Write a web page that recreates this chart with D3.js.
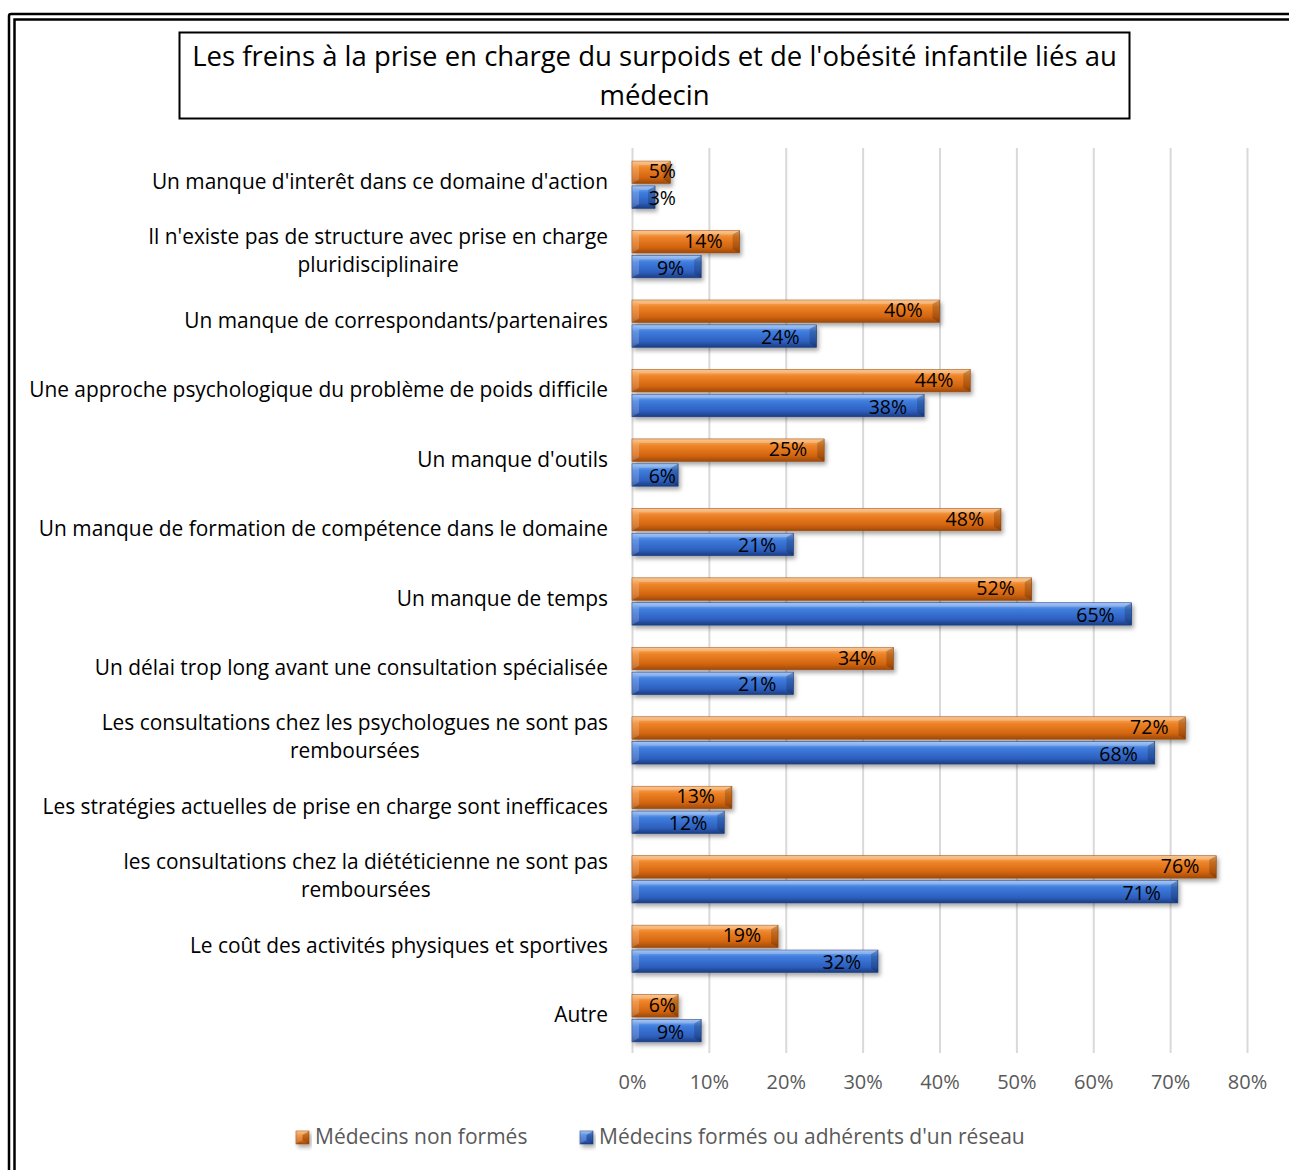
<!DOCTYPE html>
<html>
<head>
<meta charset="utf-8">
<script src="https://cdn.jsdelivr.net/npm/d3@7"></script>
<style>
  body { margin: 0; background: #fff; }
  text { font-family: "Open Sans", Lato, sans-serif; }
</style>
</head>
<body>
<svg id="chart" width="1289" height="1170"></svg>
<script>
// chart data
var categories = [
    "Un manque d'interêt dans ce domaine d'action",
    "Il n'existe pas de structure avec prise en charge\npluridisciplinaire",
    "Un manque de correspondants/partenaires",
    "Une approche psychologique du problème de poids difficile",
    "Un manque d'outils",
    "Un manque de formation de compétence dans le domaine",
    "Un manque de temps",
    "Un délai trop long avant une consultation spécialisée",
    "Les consultations chez les psychologues ne sont pas\nremboursées",
    "Les stratégies actuelles de prise en charge sont inefficaces",
    "les consultations chez la diététicienne ne sont pas\nremboursées",
    "Le coût des activités physiques et sportives",
    "Autre"
];
var seriesNames = ["Médecins non formés", "Médecins formés ou adhérents d'un réseau"];
var nonFormes = [0.05, 0.14, 0.40, 0.44, 0.25, 0.48, 0.52, 0.34, 0.72, 0.13, 0.76, 0.19, 0.06];
var formes = [0.03, 0.09, 0.24, 0.38, 0.06, 0.21, 0.65, 0.21, 0.68, 0.12, 0.71, 0.32, 0.09];
var tickValues = [0, 0.1, 0.2, 0.3, 0.4, 0.5, 0.6, 0.7, 0.8];
var titleLines = ["Les freins à la prise en charge du surpoids et de l'obésité infantile liés au", "médecin"];

var seriesValues = [nonFormes, formes];
var palettes = [
    {light: "#f9b772", mid: "#ee8428", dark: "#d2640f", edge: "#9c4a0b"},
    {light: "#8db6f2", mid: "#3f7ddd", dark: "#2d5fbf", edge: "#1c3d80"}
];

var svg = d3.select("#chart");
var defs = svg.append("defs");

palettes.forEach(function(p, i) {
    var grad = defs.append("linearGradient")
        .attr("id", "grad" + i)
        .attr("x1", 0).attr("y1", 0).attr("x2", 0).attr("y2", 1);
    grad.append("stop").attr("offset", "0%").attr("stop-color", p.light);
    grad.append("stop").attr("offset", "30%").attr("stop-color", p.mid);
    grad.append("stop").attr("offset", "75%").attr("stop-color", p.dark);
    grad.append("stop").attr("offset", "100%").attr("stop-color", p.edge);
});

var shadow = defs.append("filter").attr("id", "shadow")
    .attr("x", "-10%").attr("y", "-30%").attr("width", "130%").attr("height", "180%");
shadow.append("feDropShadow")
    .attr("dx", 2).attr("dy", 3).attr("stdDeviation", 2)
    .attr("flood-color", "#000").attr("flood-opacity", 0.35);

// outer double frame
svg.append("path")
    .attr("d", "M9,1175 V16 Q9,14 11,14 H1295")
    .attr("fill", "none").attr("stroke", "#000").attr("stroke-width", 2.5);
svg.append("path")
    .attr("d", "M14.5,1175 V19.5 H1295")
    .attr("fill", "none").attr("stroke", "#000").attr("stroke-width", 2.5);

// title box
svg.append("rect")
    .attr("x", 179.5).attr("y", 32.5).attr("width", 950).attr("height", 86)
    .attr("fill", "#fff").attr("stroke", "#000").attr("stroke-width", 2);
svg.append("g").selectAll("text")
    .data(titleLines)
  .enter()
    .append("text")
    .attr("x", 654.5)
    .attr("y", function(d, i) { return 66 + i * 39; })
    .attr("text-anchor", "middle")
    .attr("font-size", 27.5)
    .attr("fill", "#000")
    .text(function(d) { return d; });

var plotTop = 148, plotBottom = 1053;

var x = d3.scaleLinear().domain([0, 0.8]).range([632, 1247]);
var y = d3.scaleBand().domain(d3.range(categories.length))
    .range([150, plotBottom]).paddingInner(0.32).paddingOuter(0.16);
var y1 = d3.scaleBand().domain([0, 1]).range([0, y.bandwidth()]).paddingInner(0.1);

// gridlines
svg.append("g")
    .attr("transform", "translate(0," + plotBottom + ")")
    .call(d3.axisBottom(x).tickValues(tickValues).tickSize(-(plotBottom - plotTop)).tickFormat(""))
    .call(function(g) { g.select(".domain").remove(); })
    .call(function(g) { g.selectAll(".tick line").attr("stroke", "#d9d9d9").attr("stroke-width", 2); });

// value axis labels
svg.append("g")
    .attr("transform", "translate(0," + plotBottom + ")")
    .call(d3.axisBottom(x).tickValues(tickValues).tickSize(0).tickPadding(22).tickFormat(d3.format(".0%")))
    .call(function(g) { g.select(".domain").remove(); })
    .call(function(g) {
        g.selectAll(".tick text")
            .attr("font-size", 20).attr("fill", "#595959")
            .attr("font-family", "'Open Sans', Lato, sans-serif");
    });

// category labels
var catLabels = svg.append("g").selectAll(".cat")
    .data(categories)
  .enter()
    .append("text")
    .attr("class", "cat")
    .attr("font-size", 20.9)
    .attr("fill", "#000");

catLabels.each(function(d, i) {
    var lines = d.split("\n");
    var t = d3.select(this);
    var cy = y(i) + y.bandwidth() / 2 - 3;
    t.attr("y", cy - (lines.length - 1) * 14 + 7);
    var spans = t.selectAll("tspan").data(lines).enter().append("tspan")
        .attr("dy", function(l, j) { return j === 0 ? 0 : 28; })
        .text(function(l) { return l; });
    // centre lines relative to the widest, block right aligned at 608
    var widths = [];
    spans.each(function() { widths.push(this.getComputedTextLength()); });
    var maxW = d3.max(widths);
    spans.attr("x", function(l, j) { return 608 - maxW / 2; })
        .attr("text-anchor", "middle");
});

// bars
function bevelBar(g, x0, x1, yy, h, idx) {
    var w = x1 - x0;
    var b = Math.min(7, w / 2);
    var s = 4;
    g.append("rect")
        .attr("x", x0).attr("y", yy).attr("width", w).attr("height", h)
        .attr("fill", "url(#grad" + idx + ")")
        .attr("stroke", palettes[idx].edge).attr("stroke-width", 0.6)
        .attr("filter", "url(#shadow)");
    g.append("polygon")
        .attr("points", [[x0, yy], [x0 + b, yy + s], [x0 + b, yy + h - s], [x0, yy + h]].join(" "))
        .attr("fill", "#fff").attr("opacity", 0.18);
    g.append("polygon")
        .attr("points", [[x1, yy], [x1 - b, yy + s], [x1 - b, yy + h - s], [x1, yy + h]].join(" "))
        .attr("fill", "#000").attr("opacity", 0.18);
    g.append("polygon")
        .attr("points", [[x0, yy], [x1, yy], [x1 - b, yy + s], [x0 + b, yy + s]].join(" "))
        .attr("fill", "#fff").attr("opacity", 0.22);
}

var rows = svg.append("g").selectAll(".row")
    .data(categories)
  .enter()
    .append("g")
    .attr("class", "row")
    .attr("transform", function(d, i) { return "translate(0," + y(i) + ")"; });

rows.each(function(d, i) {
    var row = d3.select(this);
    seriesValues.forEach(function(vals, s) {
        var v = vals[i];
        bevelBar(row, x(0), x(v), y1(s), y1.bandwidth(), s);
    });
    seriesValues.forEach(function(vals, s) {
        var v = vals[i];
        row.append("text")
            .attr("x", Math.max(x(v) - 17, 676))
            .attr("y", y1(s) + y1.bandwidth() / 2 + 6.5 + (s === 0 ? -0.5 : 1.5))
            .attr("text-anchor", "end")
            .attr("font-size", 19.5)
            .attr("fill", "#000")
            .text(d3.format(".0%")(v));
    });
});

// legend
var legendX = [296, 580];
var legend = svg.append("g").selectAll(".leg")
    .data(seriesNames)
  .enter()
    .append("g")
    .attr("class", "leg")
    .attr("transform", function(d, i) { return "translate(" + legendX[i] + ",1130)"; });

legend.each(function(d, i) {
    bevelBar(d3.select(this), 0, 13, 1, 13, i);
});
legend.append("text")
    .attr("x", 19).attr("y", 14)
    .attr("font-size", 21)
    .attr("fill", "#595959")
    .text(function(d) { return d; });
</script>
</body>
</html>
